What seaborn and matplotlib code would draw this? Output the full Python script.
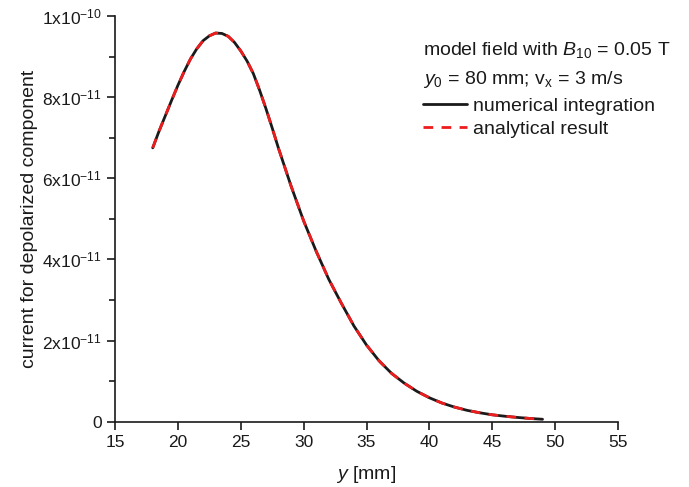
import matplotlib
matplotlib.use("Agg")
import matplotlib.pyplot as plt
import numpy as np
import pandas as pd
import seaborn as sns
from matplotlib.lines import Line2D

# values (y in units of 1e-12)
y_pos = [18, 18.5, 19, 19.5, 20, 20.5, 21, 21.5, 22, 22.5, 23, 23.5, 24, 24.5,
         25, 25.5, 26, 26.5, 27, 27.5, 28, 29, 30, 31, 32, 33, 34, 35, 36, 37,
         38, 39, 40, 41, 42, 43, 44, 45, 46, 47, 48, 49]
current = [67.5, 71.6, 75.4, 79.2, 82.9, 86.3, 89.4, 91.9, 93.9, 95.1, 95.8, 95.7,
           95.0, 93.5, 91.4, 88.9, 85.8, 81.7, 77.2, 72.4, 67.4, 58.1, 49.5, 42.0,
           35.1, 29.2, 23.6, 18.9, 15.0, 11.9, 9.5, 7.5, 5.9, 4.6, 3.6, 2.8,
           2.2, 1.7, 1.35, 1.05, 0.8, 0.6]
ytick_values = [0, 2e-11, 4e-11, 6e-11, 8e-11, 1e-10]
ytick_labels = ['0', r'$2\mathrm{x}10^{-11}$', r'$4\mathrm{x}10^{-11}$',
                r'$6\mathrm{x}10^{-11}$', r'$8\mathrm{x}10^{-11}$', r'$1\mathrm{x}10^{-10}$']
xtick_values = [15, 20, 25, 30, 35, 40, 45, 50, 55]

df = pd.DataFrame({'y': y_pos, 'I': np.array(current) * 1e-12})

sns.set_style('ticks')
plt.rcParams['font.family'] = ['Liberation Sans', 'DejaVu Sans']
plt.rcParams['mathtext.fontset'] = 'custom'
plt.rcParams['mathtext.rm'] = 'Liberation Sans'
plt.rcParams['mathtext.it'] = 'Liberation Sans:italic'

fig = plt.figure(figsize=(6.89, 4.87), dpi=100)
ax = fig.add_axes([115 / 689, 65.3 / 487, 503 / 689, 405.7 / 487])

sns.lineplot(data=df, x='y', y='I', ax=ax, color='#1a1a1a', linewidth=2.0)
sns.lineplot(data=df, x='y', y='I', ax=ax, color='#ee1c1c', linewidth=2.0,
             linestyle=(0, (3.5, 3.0)))

ax.set_xlim(15, 55)
ax.set_ylim(0, 1e-10)
ax.set_xticks(xtick_values)
ax.set_yticks(ytick_values)
ax.set_yticklabels(ytick_labels)
ax.set_yticks([1e-11, 3e-11, 5e-11, 7e-11, 9e-11], minor=True)
ax.tick_params(axis='both', which='major', direction='out', length=6, width=1.2,
               labelsize=12.5, color='#1a1a1a', labelcolor='#1a1a1a')
ax.tick_params(axis='y', which='minor', direction='out', length=4, width=1.2,
               color='#1a1a1a')
for s in ['top', 'right']:
    ax.spines[s].set_visible(False)
for s in ['left', 'bottom']:
    ax.spines[s].set_linewidth(1.2)
    ax.spines[s].set_color('#1a1a1a')

ax.set_xlabel(r'$\mathit{y}$ [mm]', fontsize=14, color='#1a1a1a', labelpad=10)
ax.set_ylabel('current for depolarized component', fontsize=14, color='#1a1a1a',
              labelpad=3)

ax.text(0.613, 0.917, r'model field with $\mathit{B}_{10}$ = 0.05 T',
        transform=ax.transAxes, fontsize=14, color='#1a1a1a', va='center')
ax.text(0.613, 0.844, r'$\mathit{y}_{0}$ = 80 mm; v$_{\mathrm{x}}$ = 3 m/s',
        transform=ax.transAxes, fontsize=14, color='#1a1a1a', va='center')

handles = [Line2D([], [], color='#1a1a1a', linewidth=2.0),
           Line2D([], [], color='#ee1c1c', linewidth=2.0, linestyle=(0, (3.5, 3.0)))]
ax.legend(handles, ['numerical integration', 'analytical result'],
          loc='upper left', bbox_to_anchor=(0.596, 0.818), frameon=False,
          fontsize=14, handlelength=2.3, handletextpad=0.3, labelspacing=0.25,
          borderaxespad=0, labelcolor='#1a1a1a')

fig.savefig('out.png', dpi=100)
